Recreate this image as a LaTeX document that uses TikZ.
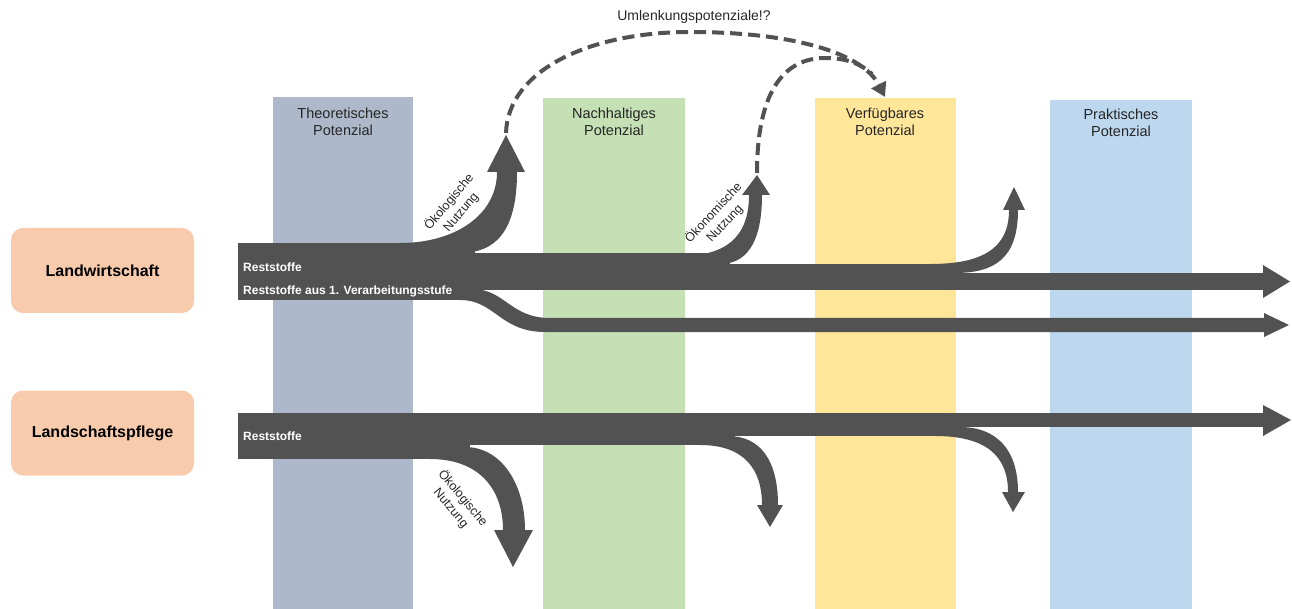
\documentclass[tikz,border=0pt]{standalone}
\usepackage{fontspec}
\setmainfont{Liberation Sans}
\usetikzlibrary{arrows.meta}
\definecolor{flowgray}{HTML}{525252}
\definecolor{ctheo}{HTML}{ADB9CA}
\definecolor{cnach}{HTML}{C5E0B4}
\definecolor{cverf}{HTML}{FFE699}
\definecolor{cprak}{HTML}{BDD7EE}
\definecolor{csrc}{HTML}{F8CBAD}
\definecolor{ctext}{HTML}{262626}
\tikzset{
  colbox/.style={draw=none, minimum width=140pt, minimum height=512pt, inner sep=0pt, anchor=north west},
  collabel/.style={align=center, text=ctext, font=\fontsize{14.5}{17}\selectfont, inner sep=0pt},
  srcbox/.style={fill=csrc, rounded corners=12pt, minimum width=183pt, minimum height=85pt, inner sep=0pt, font=\fontsize{16}{19}\selectfont\bfseries, text=black},
  flowlabel/.style={text=white, font=\fontsize{12}{14}\selectfont\bfseries, anchor=west, inner sep=0pt},
  uselabel/.style={align=center, text=ctext, font=\fontsize{12.5}{15.5}\selectfont, inner sep=0pt},
  flow/.style={fill=flowgray},
  dashedflow/.style={draw=flowgray, line width=4pt, dash pattern=on 12pt off 6pt}
}
\begin{document}
\begin{tikzpicture}[x=1pt,y=-1pt]
\useasboundingbox (0,0) rectangle (1292,609);
% columns
\node[colbox, fill=ctheo] (theo) at (273,97) {};
\node[colbox, fill=cnach, minimum width=142pt] (nach) at (543,98) {};
\node[colbox, fill=cverf, minimum width=141pt] (verf) at (815,98) {};
\node[colbox, fill=cprak, minimum width=142pt] (prak) at (1050,100) {};
\node[collabel] (theoL) at (343,122) {Theoretisches\\Potenzial};
\node[collabel] (nachL) at (614,122) {Nachhaltiges\\Potenzial};
\node[collabel] (verfL) at (885,122) {Verfügbares\\Potenzial};
\node[collabel] (prakL) at (1121,123) {Praktisches\\Potenzial};
% source boxes
\node[srcbox] (lw) at (102.5,270.5) {Landwirtschaft};
\node[srcbox] (lp) at (102.5,433) {Landschaftspflege};
% ---- top flow (Landwirtschaft)
\fill[flow] (238,243) rectangle (475,300);
\fill[flow] (470,253) rectangle (730,290);
\fill[flow] (725,264) rectangle (962,290);
\fill[flow] (955,273) rectangle (1264,290);
\fill[flow] (1263,265) -- (1290,281.5) -- (1263,298) -- cycle;
% oekologische up
\fill[flow] (400,243) .. controls (455,243) and (497,215) .. (497,172) -- (487,172) -- (506,135) -- (525,172) -- (517,172)
  .. controls (517,232) and (495,253) .. (460,253) -- (460,262) -- (400,262) -- cycle;
% oekonomische up
\fill[flow] (680,256) .. controls (725,256) and (749,238) .. (749,195) -- (742,195) -- (757,175) -- (770,195) -- (762,195)
  .. controls (762,245) and (745,264) .. (720,264) -- (720,272) -- (680,272) -- cycle;
% third up
\fill[flow] (930,264) .. controls (983,264) and (1009,248) .. (1009,210) -- (1003,210) -- (1014,187) -- (1025,210) -- (1018,210)
  .. controls (1018,258) and (995,273) .. (955,273) -- (955,280) -- (930,280) -- cycle;
% lower branch
\fill[flow] (460,289) -- (472,289) .. controls (505,289) and (510,318) .. (550,318) -- (1264,318) -- (1264,313) -- (1289,325)
  -- (1264,337) -- (1264,332) -- (545,332) .. controls (500,332) and (495,300) .. (460,300) -- cycle;
% ---- bottom flow (Landschaftspflege)
\fill[flow] (238,413) rectangle (470,459);
\fill[flow] (465,413) rectangle (735,445);
\fill[flow] (730,413) rectangle (965,436);
\fill[flow] (960,413) rectangle (1264,427);
\fill[flow] (1263,405) -- (1291,420) -- (1263,436) -- cycle;
\fill[flow] (430,459) .. controls (480,459) and (503,490) .. (503,530) -- (494,530) -- (513,567) -- (533,530) -- (525,530)
  .. controls (525,485) and (502,447) .. (465,447) -- (465,440) -- (430,440) -- cycle;
\fill[flow] (700,445) .. controls (745,445) and (762,470) .. (762,505) -- (757,505) -- (770,527) -- (783,505) -- (778,505)
  .. controls (778,460) and (760,436) .. (728,436) -- (728,430) -- (700,430) -- cycle;
\fill[flow] (935,436) .. controls (985,436) and (1008,455) .. (1008,492) -- (1002,492) -- (1013,512) -- (1025,492) -- (1018,492)
  .. controls (1018,448) and (995,427) .. (960,427) -- (960,420) -- (935,420) -- cycle;
% flow labels
\node[flowlabel] (r1) at (243,267) {Reststoffe};
\node[flowlabel] (r2) at (243,291) {Reststoffe aus 1. Verarbeitungsstufe};
\node[flowlabel] (r3) at (243,436) {Reststoffe};
\node[uselabel, rotate=50] (oek1) at (455,207) {Ökologische\\Nutzung};
\node[uselabel, rotate=47] (oekon) at (719,218) {Ökonomische\\Nutzung};
\node[uselabel, rotate=-50] (oek2) at (457,503) {Ökologische\\Nutzung};
% dashed redirection
\coordinate (d1s) at (506,133);
\coordinate (d1m) at (690,32);
\coordinate (d1e) at (885,97);
\coordinate (d2s) at (757,173);
\coordinate (d2m) at (825,58);
\coordinate (d2e) at (872,74);
\draw[dashedflow, -{Triangle[length=14pt,width=16pt]}] (d1s) .. controls (508,70) and (590,32) .. (d1m) .. controls (790,32) and (862,52) .. (d1e);
\draw[dashedflow] (d2s) .. controls (757,90) and (785,58) .. (d2m) .. controls (845,58) and (860,63) .. (d2e);
\node[text=ctext, font=\fontsize{14}{16}\selectfont, inner sep=0pt] (uml) at (694,17) {Umlenkungspotenziale!?};
\end{tikzpicture}
\end{document}
